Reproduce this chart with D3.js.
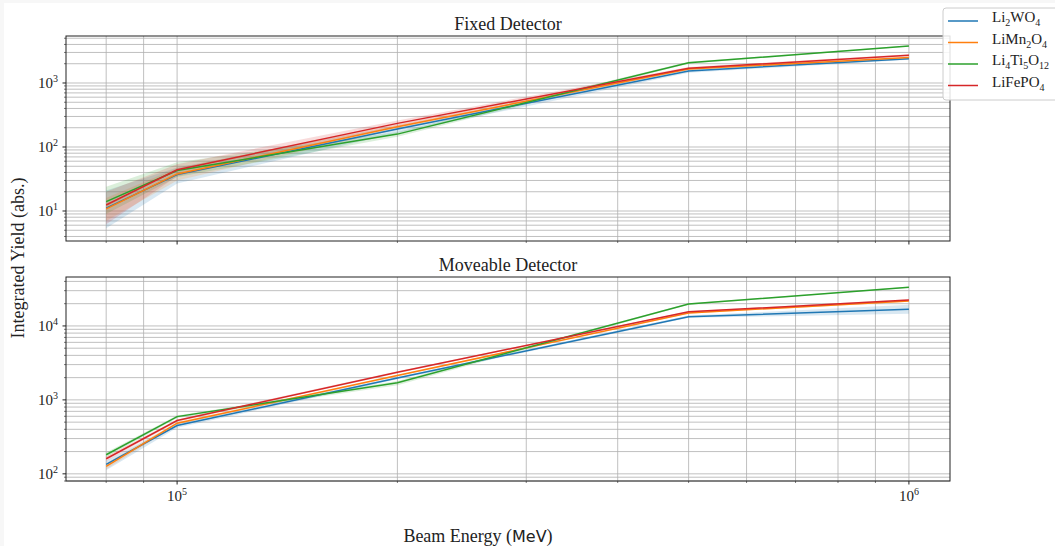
<!DOCTYPE html>
<html>
<head>
<meta charset="utf-8">
<script src="https://cdn.jsdelivr.net/npm/d3@7"></script>
<style>
  body { margin: 0; background: #f7f7f7; }
  svg { display: block; }
  text { font-family: "Liberation Serif", "DejaVu Serif", serif; fill: #222; }
</style>
</head>
<body>
<div id="chart"></div>
<script>
// Energias do feixe (MeV)
const energies = [80000, 100000, 200000, 500000, 1000000];

// Materiais (nome com subscritos)
const materials = [
  [['Li'], ['2', 'sub'], ['WO'], ['4', 'sub']],
  [['LiMn'], ['2', 'sub'], ['O'], ['4', 'sub']],
  [['Li'], ['4', 'sub'], ['Ti'], ['5', 'sub'], ['O'], ['12', 'sub']],
  [['LiFePO'], ['4', 'sub']]
];
const colors = ['#1f77b4', '#ff7f0e', '#2ca02c', '#d62728'];

// Detector fixo
const fixedMean = [
  [11.1, 37, 191, 1540, 2400],
  [10.8, 38, 207, 1660, 2490],
  [14, 43, 159, 2070, 3790],
  [12.4, 44, 234, 1700, 2710]
];
const fixedLow = [
  [5.4, 27, 165, 1450, 2300],
  [7, 30, 190, 1590, 2420],
  [9, 34, 145, 2000, 3720],
  [6.2, 35, 210, 1620, 2620]
];
const fixedHigh = [
  [21, 48, 215, 1630, 2500],
  [16, 47, 225, 1730, 2560],
  [24, 58, 172, 2140, 3860],
  [20, 54, 260, 1780, 2800]
];

// Detector móvel
const moveMean = [
  [134, 450, 1980, 13300, 16800],
  [126, 484, 2130, 15000, 21700],
  [181, 594, 1710, 19800, 33400],
  [160, 525, 2370, 15500, 22400]
];
const moveLow = [
  [112, 420, 1900, 12900, 14600],
  [115, 465, 2080, 14700, 21200],
  [168, 570, 1580, 19400, 32800],
  [148, 505, 2300, 15200, 21900]
];
const moveHigh = [
  [150, 480, 2060, 13800, 19300],
  [138, 505, 2180, 15300, 22200],
  [194, 615, 1800, 20200, 34000],
  [172, 545, 2440, 15800, 22900]
];

const W = 1055, H = 546;
const left = 66, right = 950;

const svg = d3.select('#chart').append('svg')
  .attr('width', W).attr('height', H);

svg.append('rect').attr('x', 4).attr('y', 3)
  .attr('width', W - 4).attr('height', H - 3).attr('fill', '#fff');

const x = d3.scaleLog().domain([70500, 1138000]).range([left, right]);

const xMinor = [];
for (let e = 4; e <= 6; e++) for (let m = 1; m < 10; m++) {
  const v = m * Math.pow(10, e);
  if (v >= x.domain()[0] && v <= x.domain()[1]) xMinor.push(v);
}

function sup(sel, base, exp) {
  sel.append('tspan').text(base);
  sel.append('tspan').attr('dy', -6).style('font-size', '10px').text(exp);
}

function panel(top, bottom, yDomain, title, means, lows, highs, showX) {
  const y = d3.scaleLog().domain(yDomain).range([bottom, top]);
  const g = svg.append('g');

  const e0 = Math.floor(Math.log10(yDomain[0])), e1 = Math.ceil(Math.log10(yDomain[1]));
  const yMinor = [], yMajor = [];
  for (let e = e0; e <= e1; e++) {
    for (let m = 1; m < 10; m++) {
      const v = m * Math.pow(10, e);
      if (v >= yDomain[0] && v <= yDomain[1]) (m === 1 ? yMajor : yMinor).push(v);
    }
  }

  // Grade
  g.selectAll('.hg').data(yMajor.concat(yMinor)).enter().append('line')
    .attr('x1', left).attr('x2', right)
    .attr('y1', d => y(d)).attr('y2', d => y(d))
    .attr('stroke', '#b0b0b0').attr('stroke-width', 0.8);
  g.selectAll('.vg').data(xMinor).enter().append('line')
    .attr('y1', top).attr('y2', bottom)
    .attr('x1', d => x(d)).attr('x2', d => x(d))
    .attr('stroke', '#b0b0b0').attr('stroke-width', 0.8);

  // Faixas de incerteza
  const area = d3.area()
    .x((d, i) => x(energies[i]))
    .y0(d => y(d[0])).y1(d => y(d[1]));
  means.forEach((s, k) => {
    const band = lows[k].map((lo, i) => [lo, highs[k][i]]);
    g.append('path').datum(band).attr('d', area)
      .attr('fill', colors[k]).attr('opacity', 0.17);
  });

  // Linhas
  const line = d3.line().x((d, i) => x(energies[i])).y(d => y(d));
  means.forEach((s, k) => {
    g.append('path').datum(s).attr('d', line)
      .attr('fill', 'none').attr('stroke', colors[k]).attr('stroke-width', 1.5);
  });

  // Moldura
  g.append('rect').attr('x', left).attr('y', top)
    .attr('width', right - left).attr('height', bottom - top)
    .attr('fill', 'none').attr('stroke', '#222').attr('stroke-width', 1);

  // Ticks do eixo y
  g.selectAll('.ymt').data(yMajor).enter().append('line')
    .attr('x1', left - 3.5).attr('x2', left)
    .attr('y1', d => y(d)).attr('y2', d => y(d)).attr('stroke', '#222');
  g.selectAll('.ynt').data(yMinor).enter().append('line')
    .attr('x1', left - 2).attr('x2', left)
    .attr('y1', d => y(d)).attr('y2', d => y(d)).attr('stroke', '#222').attr('stroke-width', 0.6);
  yMajor.forEach(v => {
    const t = g.append('text').attr('x', left - 8).attr('y', y(v) + 5)
      .attr('text-anchor', 'end').style('font-size', '15px');
    sup(t, '10', Math.round(Math.log10(v)));
  });

  // Ticks do eixo x
  g.selectAll('.xt').data(xMinor).enter().append('line')
    .attr('x1', d => x(d)).attr('x2', d => x(d))
    .attr('y1', bottom).attr('y2', d => bottom + (Number.isInteger(Math.log10(d)) ? 3.5 : 2))
    .attr('stroke', '#222').attr('stroke-width', d => Number.isInteger(Math.log10(d)) ? 1 : 0.6);
  if (showX) {
    [1e5, 1e6].forEach(v => {
      const t = g.append('text').attr('x', x(v)).attr('y', bottom + 20)
        .attr('text-anchor', 'middle').style('font-size', '15px');
      sup(t, '10', Math.round(Math.log10(v)));
    });
  }

  g.append('text').attr('x', (left + right) / 2).attr('y', top - 6)
    .attr('text-anchor', 'middle').style('font-size', '18px').text(title);
}

panel(36, 241, [3.4, 5420], 'Fixed Detector', fixedMean, fixedLow, fixedHigh, false);
panel(277, 481, [80, 45900], 'Moveable Detector', moveMean, moveLow, moveHigh, true);

// Rótulos dos eixos
svg.append('text').attr('transform', 'translate(24,258) rotate(-90)')
  .attr('text-anchor', 'middle').style('font-size', '18px').text('Integrated Yield (abs.)');

const xl = svg.append('text').attr('x', 478).attr('y', 542)
  .attr('text-anchor', 'middle').style('font-size', '18px');
xl.append('tspan').text('Beam Energy (');
xl.append('tspan').style('font-family', '"DejaVu Sans", sans-serif').style('font-size', '16px').text('MeV');
xl.append('tspan').text(')');

// Legenda
const legend = svg.append('g').attr('transform', 'translate(943,8)');
legend.append('rect').attr('width', 118).attr('height', 92).attr('rx', 3)
  .attr('fill', 'rgba(255,255,255,0.85)').attr('stroke', '#ccc');
materials.forEach((parts, k) => {
  const ly = 13 + k * 21.5;
  legend.append('line').attr('x1', 5).attr('x2', 35).attr('y1', ly).attr('y2', ly)
    .attr('stroke', colors[k]).attr('stroke-width', 1.5);
  const t = legend.append('text').attr('x', 49).attr('y', ly + 5).style('font-size', '15px');
  parts.forEach(p => {
    if (p[1] === 'sub') {
      t.append('tspan').attr('dy', 4).style('font-size', '10px').text(p[0]);
    } else {
      t.append('tspan').attr('dy', t.selectAll('tspan').size() ? -4 : 0).text(p[0]);
    }
  });
});
</script>
</body>
</html>
